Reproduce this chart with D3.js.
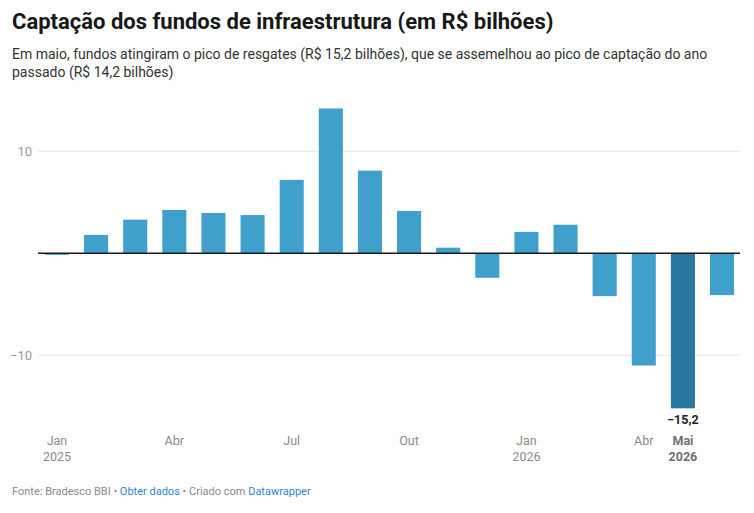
<!DOCTYPE html>
<html>
<head>
<meta charset="utf-8">
<script src="https://cdn.jsdelivr.net/npm/d3@7"></script>
<style>
  body { margin: 0; background: #fff; font-family: Roboto, "Noto Sans", sans-serif; }
</style>
</head>
<body>
<div id="chart"></div>
<script>
// data
const months = ["Jan 2025", "Fev 2025", "Mar 2025", "Abr 2025", "Mai 2025", "Jun 2025",
    "Jul 2025", "Ago 2025", "Set 2025", "Out 2025", "Nov 2025", "Dez 2025",
    "Jan 2026", "Fev 2026", "Mar 2026", "Abr 2026", "Mai 2026", "Jun 2026"];
const values = [-0.15, 1.8, 3.3, 4.25, 3.95, 3.75, 7.2, 14.2, 8.1, 4.15, 0.55, -2.4,
    2.1, 2.8, -4.2, -11.0, -15.2, -4.1];
const highlight = "Mai 2026";
const tickMonths = ["Jan 2025", "Abr 2025", "Jul 2025", "Out 2025", "Jan 2026", "Abr 2026", "Mai 2026"];
const tickLabels = [["Jan", "2025"], ["Abr"], ["Jul"], ["Out"], ["Jan", "2026"], ["Abr"], ["Mai", "2026"]];
const yTicks = [-10, 0, 10];

const width = 754, height = 513;

const svg = d3.select("#chart").append("svg")
    .attr("width", width)
    .attr("height", height);

// title + subtitle
svg.append("text")
    .attr("x", 12).attr("y", 29)
    .attr("font-size", 22).attr("font-weight", 700)
    .attr("fill", "#181818")
    .text("Captação dos fundos de infraestrutura (em R$ bilhões)");

const sub = svg.append("text")
    .attr("font-size", 14).attr("fill", "#333");
sub.append("tspan").attr("x", 12).attr("y", 59)
    .text("Em maio, fundos atingiram o pico de resgates (R$ 15,2 bilhões), que se assemelhou ao pico de captação do ano");
sub.append("tspan").attr("x", 12).attr("y", 77)
    .text("passado (R$ 14,2 bilhões)");

// scales
const x = d3.scaleBand()
    .domain(months)
    .range([37.5, 741.5])
    .paddingInner(0.385)
    .paddingOuter(0.19);

const y = d3.scaleLinear()
    .domain([-10, 10])
    .range([355.3, 151.3]);

// gridlines
svg.append("g")
    .selectAll("line")
    .data(yTicks.filter(d => d !== 0))
    .join("line")
    .attr("x1", 38).attr("x2", 740)
    .attr("y1", d => y(d)).attr("y2", d => y(d))
    .attr("stroke", "#e6e6e6").attr("stroke-width", 1);

svg.append("g")
    .selectAll("text")
    .data(yTicks.filter(d => d !== 0))
    .join("text")
    .attr("x", 32).attr("y", d => y(d) + 4.5)
    .attr("text-anchor", "end")
    .attr("font-size", 13).attr("fill", "#9a9a9a")
    .text(d => d < 0 ? "\u2212" + Math.abs(d) : d);

// bars
svg.append("g")
    .selectAll("rect")
    .data(months)
    .join("rect")
    .attr("x", d => x(d))
    .attr("width", x.bandwidth())
    .attr("y", (d, i) => y(Math.max(0, values[i])))
    .attr("height", (d, i) => Math.abs(y(values[i]) - y(0)))
    .attr("fill", d => d === highlight ? "#2a77a0" : "#3fa0cb");

// zero line
svg.append("line")
    .attr("x1", 38).attr("x2", 740)
    .attr("y1", y(0)).attr("y2", y(0))
    .attr("stroke", "#1a1a1a").attr("stroke-width", 1.5);

// value label for highlight
const hi = months.indexOf(highlight);
svg.append("text")
    .attr("x", x(highlight) + x.bandwidth() / 2)
    .attr("y", y(values[hi]) + 16)
    .attr("text-anchor", "middle")
    .attr("font-size", 12.5).attr("font-weight", 700).attr("fill", "#222")
    .text("\u2212" + Math.abs(values[hi]).toFixed(1).replace(".", ","));

// x axis labels
const xl = svg.append("g")
    .selectAll("text")
    .data(tickMonths)
    .join("text")
    .attr("text-anchor", "middle")
    .attr("font-size", 12.5)
    .attr("font-weight", d => d === highlight ? 700 : 400)
    .attr("fill", d => d === highlight ? "#707070" : "#8a8a8a");
xl.each(function(d, i) {
    const cx = x(d) + x.bandwidth() / 2;
    tickLabels[i].forEach((t, j) => {
        d3.select(this).append("tspan")
            .attr("x", cx).attr("y", 445 + j * 15.5)
            .text(t);
    });
});

// footer
const foot = svg.append("text")
    .attr("x", 12).attr("y", 495)
    .attr("font-size", 11).attr("fill", "#8a8a8a");
foot.append("tspan").text("Fonte: Bradesco BBI \u2022 ");
foot.append("tspan").attr("fill", "#2f86cf").text("Obter dados");
foot.append("tspan").text(" \u2022 Criado com ");
foot.append("tspan").attr("fill", "#2f86cf").text("Datawrapper");
</script>
</body>
</html>
